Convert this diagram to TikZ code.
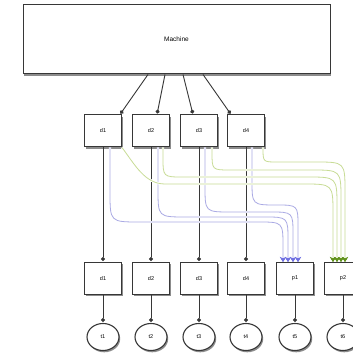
\documentclass[tikz,border=0pt]{standalone}
\usepackage{fontspec}
\setmainfont{Liberation Sans}
\usetikzlibrary{calc,shadows,arrows.meta,shapes.geometric}
\definecolor{edgec}{RGB}{55,55,55}
\definecolor{bluel}{RGB}{170,170,228}
\definecolor{blueh}{RGB}{110,110,225}
\definecolor{greenl}{RGB}{200,220,150}
\definecolor{greenh}{RGB}{95,145,25}
\newcommand{\flow}[6]{%
  \draw[#1] let \p1=(#2), \p2=(#5) in (\p1) -- (\x1,#3pt+#4pt) .. controls (\x1,#3pt) .. (\x1+#4pt,#3pt) -- (\x2-#6pt,#3pt) .. controls (\x2,#3pt) .. (\x2,#3pt-#6pt) -- (\p2);}
\begin{document}
\begin{tikzpicture}[x=1pt,y=1pt,
  shad/.style={drop shadow={shadow xshift=1.2pt,shadow yshift=-1.8pt,fill=black!75,opacity=0.6}},
  box/.style={draw=edgec, line width=1pt, fill=white, minimum width=37pt, minimum height=32pt, inner sep=0pt, font=\fontsize{5.5}{6}\selectfont, shad},
  mbox/.style={draw=edgec, line width=1pt, fill=white, minimum width=307pt, minimum height=69pt, inner sep=0pt, font=\fontsize{6.5}{7}\selectfont, shad},
  tok/.style={ellipse, draw=edgec, line width=1.1pt, fill=white, minimum width=32pt, minimum height=27pt, inner sep=0pt, font=\fontsize{5.5}{6}\selectfont, shad},
  conn/.style={draw=edgec, line width=0.9pt, -{Circle[length=4pt]}, shorten >=1pt},
  bflow/.style={draw=bluel, line width=0.8pt, preaction={draw=white,line width=2.4pt}, -{Stealth[length=5pt,width=6pt,color=blueh]}},
  gflow/.style={draw=greenl, line width=0.8pt, preaction={draw=white,line width=2.4pt}, -{Stealth[length=5pt,width=6pt,color=greenh]}}
]
\useasboundingbox (0,0) rectangle (353,353);
\node[mbox] (m) at (176.5,313.5) {Machine};
\foreach \i/\x in {1/103,2/151,3/199,4/246}{
  \node[box] (a\i) at (\x,222) {d\i};
  \node[box] (b\i) at (\x,74.5) {d\i};
}
\node[box] (p1) at (295,74.5) {p1};
\node[box] (p2) at (343,74.5) {p2};
\foreach \i/\x in {1/103,2/151,3/199,4/246,5/295,6/343}{
  \node[tok] (t\i) at (\x,16) {t\i};
}
% machine to top row
\draw[conn] ($(m.south)+(-28.5,0)$) -- ($(a1.north)+(17,0)$);
\draw[conn] ($(m.south)+(-11.5,0)$) -- ($(a2.north)+(6,0)$);
\draw[conn] ($(m.south)+(6.5,0)$) -- ($(a3.north)+(-6,0)$);
\draw[conn] ($(m.south)+(26.5,0)$) -- ($(a4.north)+(-15,0)$);
% verticals
\foreach \i in {1,2,3,4}{
  \draw[conn] (a\i) -- (b\i);
}
\foreach \i/\n in {1/b1,2/b2,3/b3,4/b4,5/p1,6/p2}{
  \draw[conn] (\n) -- (t\i);
}
% blue flows to p1
\flow{bflow}{$(a1.south)+(7,0)$}{131}{30}{$(p1.north)+(-12,0)$}{25}
\flow{bflow}{$(a2.south)+(7,0)$}{136}{28}{$(p1.north)+(-7,0)$}{24}
\flow{bflow}{$(a3.south)+(6,0)$}{141}{26}{$(p1.north)+(-2,0)$}{23}
\flow{bflow}{$(a4.south)+(6,0)$}{148}{25}{$(p1.north)+(3,0)$}{22}
% green flows to p2
\draw[gflow] let \p2=($(p2.north)+(-10,0)$) in (a1.south east) .. controls (135,188) and (145,169) .. (165,169) -- (\x2-30pt,169pt) .. controls (\x2,169pt) .. (\x2,139pt) -- (\p2);
\flow{gflow}{$(a2.south)+(12,0)$}{176}{20}{$(p2.north)+(-6,0)$}{30}
\flow{gflow}{$(a3.south)+(13,0)$}{183}{18}{$(p2.north)+(-2,0)$}{30}
\flow{gflow}{$(a4.south)+(17,0)$}{191}{14}{$(p2.north)+(2,0)$}{30}
\end{tikzpicture}
\end{document}
